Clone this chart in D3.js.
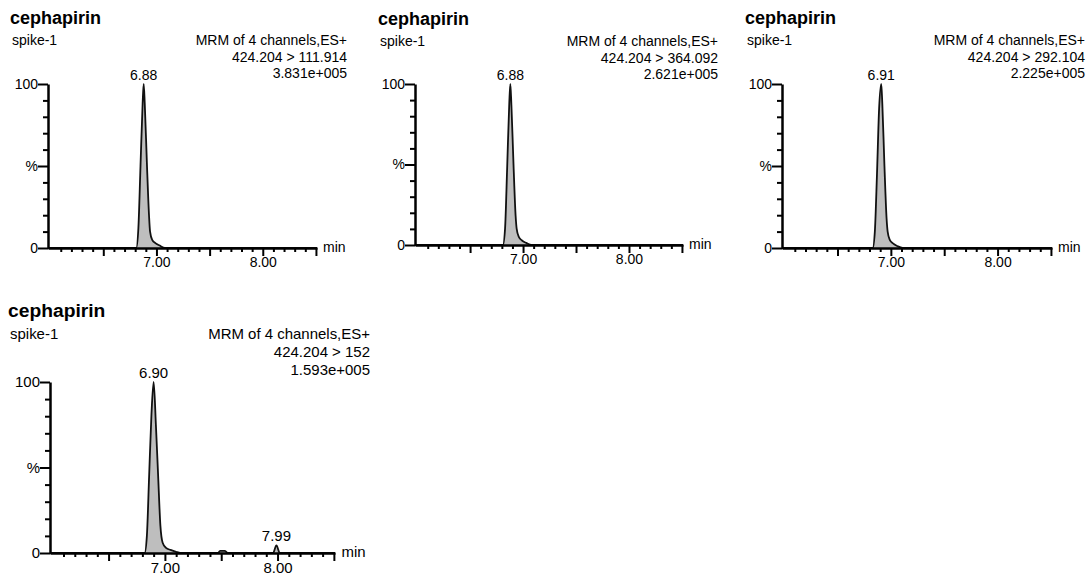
<!DOCTYPE html>
<html>
<head>
<meta charset="utf-8">
<script src="https://cdn.jsdelivr.net/npm/d3@7"></script>
<style>
  body { margin: 0; background: #fff; }
  svg { display: block; font-family: "Liberation Sans", Arial, sans-serif; }
</style>
</head>
<body>
<div id="chart"></div>
<script>

var compound = 'cephapirin';
var sampleName = 'spike-1';
var scanLabel = 'MRM of 4 channels,ES+';
var transitions = ['424.204 > 111.914', '424.204 > 364.092', '424.204 > 292.104', '424.204 > 152'];
var peakHeights = ['3.831e+005', '2.621e+005', '2.225e+005', '1.593e+005'];
var timeRange = [5.98, 8.51];
var xTickLabels = [7, 8];
var apexTimes = [[6.88], [6.88], [6.91], [6.90, 7.99]];

// [time (min), relative intensity (%)]
var trace111 = [[5.98, 0], [6.81, 0], [6.83, 12], [6.85, 50], [6.87, 88], [6.88, 100], [6.89, 88],
  [6.91, 52], [6.93, 20], [6.94, 10], [6.96, 5], [6.99, 3], [7.03, 1.5], [7.08, 0], [8.51, 0]];
var trace364 = [[5.98, 0], [6.81, 0], [6.83, 10], [6.85, 48], [6.87, 88], [6.88, 100], [6.89, 87],
  [6.91, 50], [6.93, 18], [6.94, 10], [6.96, 5], [6.99, 2.8], [7.03, 1.3], [7.08, 0], [8.51, 0]];
var trace292 = [[5.98, 0], [6.83, 0], [6.85, 10], [6.87, 45], [6.89, 85], [6.91, 100], [6.92, 88],
  [6.94, 50], [6.96, 18], [6.97, 10], [6.99, 5], [7.02, 2.8], [7.06, 1.2], [7.11, 0], [8.51, 0]];
var trace152 = [[5.98, 0], [6.82, 0], [6.84, 10], [6.86, 45], [6.88, 80], [6.90, 100], [6.92, 75],
  [6.94, 45], [6.96, 16], [6.98, 6], [7.01, 3], [7.05, 1.8], [7.10, 0.7], [7.15, 0],
  [7.47, 0], [7.49, 1.3], [7.53, 1.3], [7.56, 0], [7.96, 0], [7.99, 4.5], [8.02, 0], [8.51, 0]];
var traces = [trace111, trace364, trace292, trace152];

// plot boxes on the page
var panels = [
  {left: 48,  right: 317,  top: 84,  bottom: 248, titleX: 10,  titleY: 24,  textRight: 347,  s: 1},
  {left: 415, right: 683,  top: 84,  bottom: 245, titleX: 378, titleY: 25,  textRight: 718,  s: 1},
  {left: 782, right: 1052, top: 84,  bottom: 248, titleX: 745, titleY: 24,  textRight: 1085, s: 1},
  {left: 50,  right: 335,  top: 382, bottom: 553, titleX: 8,   titleY: 317, textRight: 370,  s: 1.07}
];

var svg = d3.select('#chart')
    .append('svg')
    .attr('width', 1089)
    .attr('height', 579);

svg.append('rect')
    .attr('width', 1089)
    .attr('height', 579)
    .attr('fill', '#fff');

var drawPanel = function(p, i) {
	var fs = 14 * p.s;
	var g = svg.append('g');

	var x = d3.scaleLinear().domain(timeRange).range([p.left, p.right]);
	var y = d3.scaleLinear().domain([0, 100]).range([p.bottom, p.top]);

	// header texts
	g.append('text')
	    .attr('x', p.titleX).attr('y', p.titleY)
	    .attr('font-size', 18 * p.s).attr('font-weight', 'bold')
	    .text(compound);
	g.append('text')
	    .attr('x', p.titleX + 2).attr('y', p.titleY + 21 * p.s)
	    .attr('font-size', fs)
	    .text(sampleName);
	var rightLines = [scanLabel, transitions[i], peakHeights[i]];
	rightLines.forEach(function(t, k) {
		g.append('text')
		    .attr('x', p.textRight).attr('y', p.titleY + (21 + k * 16.5) * p.s)
		    .attr('font-size', fs).attr('text-anchor', 'end')
		    .text(t);
	});

	// trace
	var area = d3.area()
	    .x(function(d) { return x(d[0]); })
	    .y0(y(0))
	    .y1(function(d) { return y(d[1]); })
	    .curve(d3.curveMonotoneX);
	var line = d3.line()
	    .x(function(d) { return x(d[0]); })
	    .y(function(d) { return y(d[1]); })
	    .curve(d3.curveMonotoneX);

	g.append('path')
	    .datum(traces[i])
	    .attr('d', area)
	    .attr('fill', '#bebebe');
	g.append('path')
	    .datum(traces[i])
	    .attr('d', line)
	    .attr('fill', 'none')
	    .attr('stroke', '#111')
	    .attr('stroke-width', 1.8)
	    .attr('stroke-linejoin', 'round');

	// apex labels
	apexTimes[i].forEach(function(t) {
		var best = traces[i].reduce(function(a, b) {
			return Math.abs(b[0] - t) < Math.abs(a[0] - t) ? b : a;
		});
		g.append('text')
		    .attr('x', x(t)).attr('y', y(best[1]) - 4)
		    .attr('font-size', fs).attr('text-anchor', 'middle')
		    .text(t.toFixed(2));
	});

	// y axis
	var yAxis = d3.axisLeft(y)
	    .tickValues(d3.range(0, 101, 10))
	    .tickSize(5)
	    .tickSizeOuter(0)
	    .tickFormat(function(d) { return d === 100 ? '100' : d === 50 ? '%' : d === 0 ? '0' : ''; });
	var ya = g.append('g')
	    .attr('transform', 'translate(' + p.left + ',0)')
	    .call(yAxis);
	ya.selectAll('.tick line')
	    .attr('x2', function(d) { return d % 50 === 0 ? -10 : -5; })
	    .attr('stroke-width', 2);
	ya.selectAll('.tick text')
	    .attr('x', -10).attr('font-size', fs).attr('fill', '#000');

	// x axis
	var xTicks = d3.range(61, 86).map(function(d) { return d / 10; });
	var xAxis = d3.axisBottom(x)
	    .tickValues(xTicks)
	    .tickSize(4)
	    .tickSizeOuter(0)
	    .tickFormat(function(d) {
		    return xTickLabels.indexOf(Math.round(d * 10) / 10) >= 0 ? d.toFixed(2) : '';
	    });
	var xa = g.append('g')
	    .attr('transform', 'translate(0,' + p.bottom + ')')
	    .call(xAxis);
	xa.selectAll('.tick line')
	    .attr('y2', function(d) { return Math.round(d * 10) % 5 === 0 ? 8 : 4; })
	    .attr('stroke-width', 2);
	xa.selectAll('.tick text')
	    .attr('y', 9).attr('font-size', fs).attr('fill', '#000');

	[ya, xa].forEach(function(a) {
		a.select('.domain').attr('stroke', '#000').attr('stroke-width', 2.5);
		a.attr('font-family', null);
	});

	g.append('text')
	    .attr('x', p.right + 6 * p.s).attr('y', p.bottom + 4)
	    .attr('font-size', fs)
	    .text('min');
}

panels.forEach(drawPanel);

</script>
</body>
</html>
